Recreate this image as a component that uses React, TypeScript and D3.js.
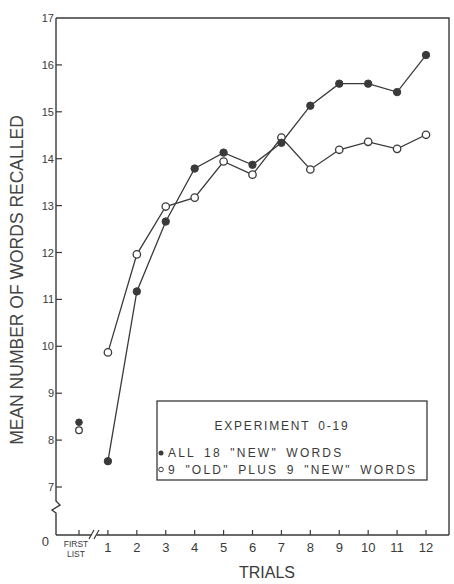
import React, { useEffect, useRef } from "react";
import * as d3 from "d3";

// trials 1..12 (first list shown apart at position 0)
const trials = [1, 2, 3, 4, 5, 6, 7, 8, 9, 10, 11, 12];
const allNew = [7.55, 11.17, 12.66, 13.79, 14.13, 13.87, 14.34, 15.13, 15.6, 15.6, 15.42, 16.21];
const oldPlusNew = [9.87, 11.96, 12.98, 13.17, 13.94, 13.66, 14.45, 13.77, 14.19, 14.36, 14.21, 14.51];
const firstListAllNew = 8.38;
const firstListOldPlusNew = 8.21;
const yTicks = [7, 8, 9, 10, 11, 12, 13, 14, 15, 16];
const xTickLabels = ["1", "2", "3", "4", "5", "6", "7", "8", "9", "10", "11", "12"];
const legendTitle = "EXPERIMENT 0-19";
const legendItems = ['ALL 18 "NEW" WORDS', '9 "OLD" PLUS 9 "NEW" WORDS'];

const ink = "#3a3a3a";
const font = "'Liberation Sans', Arial, sans-serif";

const App = () => {
  const svgRef = useRef<SVGSVGElement>(null);

  useEffect(() => {
    const svg = d3.select(svgRef.current);
    svg.selectAll("*").remove();

    const left = 56, right = 449, top = 18, bottom = 535;

    const x = d3.scaleLinear().domain([0, 12]).range([79, 426]);
    const y = d3.scaleLinear().domain([7, 17]).range([487, top]);

    // frame: top and right
    svg.append("path")
      .attr("d", `M${left},${top}H${right}V${bottom}`)
      .attr("fill", "none").attr("stroke", ink).attr("stroke-width", 1.4);

    // left axis with break squiggle
    svg.append("path")
      .attr("d", `M${left},${top}V501L${left + 4},505L${left - 4},510L${left},513V${bottom}`)
      .attr("fill", "none").attr("stroke", ink).attr("stroke-width", 1.4);

    // bottom axis with break //
    const bx = x(0.5);
    svg.append("path")
      .attr("d", `M${left},${bottom}H${bx - 2}M${bx + 3},${bottom}H${right}`)
      .attr("fill", "none").attr("stroke", ink).attr("stroke-width", 1.4);
    [-2, 3].forEach(o => {
      svg.append("line")
        .attr("x1", bx + o - 2.5).attr("y1", bottom + 4)
        .attr("x2", bx + o + 2.5).attr("y2", bottom - 5)
        .attr("stroke", ink).attr("stroke-width", 1.2);
    });

    // y ticks (inward)
    yTicks.forEach(t => {
      svg.append("line")
        .attr("x1", left).attr("x2", left + 6)
        .attr("y1", y(t)).attr("y2", y(t))
        .attr("stroke", ink).attr("stroke-width", 1.2);
    });
    [...yTicks, 17].forEach(t => {
      svg.append("text")
        .attr("x", left - 2).attr("y", y(t) + 4)
        .attr("text-anchor", "end")
        .attr("font-family", font).attr("font-size", 11)
        .attr("fill", ink)
        .text(t);
    });
    svg.append("text")
      .attr("x", left - 7).attr("y", bottom + 11)
      .attr("text-anchor", "end")
      .attr("font-family", font).attr("font-size", 13)
      .attr("fill", ink).text("0");

    // x ticks (inward)
    [0, ...trials].forEach(t => {
      svg.append("line")
        .attr("x1", x(t)).attr("x2", x(t))
        .attr("y1", bottom).attr("y2", bottom - 5)
        .attr("stroke", ink).attr("stroke-width", 1.2);
    });
    trials.forEach((t, i) => {
      svg.append("text")
        .attr("x", x(t)).attr("y", bottom + 17)
        .attr("text-anchor", "middle")
        .attr("font-family", font).attr("font-size", 13)
        .attr("fill", ink).text(xTickLabels[i]);
    });
    svg.append("text")
      .attr("x", x(0) - 3).attr("y", bottom + 12)
      .attr("text-anchor", "middle")
      .attr("font-family", font).attr("font-size", 8.5)
      .attr("fill", ink).text("FIRST");
    svg.append("text")
      .attr("x", x(0) - 3).attr("y", bottom + 22)
      .attr("text-anchor", "middle")
      .attr("font-family", font).attr("font-size", 8.5)
      .attr("fill", ink).text("LIST");

    // axis titles
    svg.append("text")
      .attr("x", 267).attr("y", 578)
      .attr("text-anchor", "middle")
      .attr("font-family", font).attr("font-size", 16)
      .attr("fill", ink).text("TRIALS");
    svg.append("text")
      .attr("transform", "translate(23,280) rotate(-90)")
      .attr("text-anchor", "middle")
      .attr("font-family", font).attr("font-size", 17.5)
      .attr("fill", "#444").text("MEAN NUMBER OF WORDS RECALLED");

    // lines
    const line = d3.line<number>()
      .x((d, i) => x(trials[i]))
      .y(d => y(d));

    svg.append("path").datum(allNew)
      .attr("d", line).attr("fill", "none")
      .attr("stroke", ink).attr("stroke-width", 1.3);
    svg.append("path").datum(oldPlusNew)
      .attr("d", line).attr("fill", "none")
      .attr("stroke", ink).attr("stroke-width", 1.3);

    // markers
    oldPlusNew.forEach((v, i) => {
      svg.append("circle")
        .attr("cx", x(trials[i])).attr("cy", y(v)).attr("r", 3.7)
        .attr("fill", "white").attr("stroke", ink).attr("stroke-width", 1.3);
    });
    allNew.forEach((v, i) => {
      svg.append("circle")
        .attr("cx", x(trials[i])).attr("cy", y(v)).attr("r", 3.7)
        .attr("fill", ink).attr("stroke", ink).attr("stroke-width", 1);
    });
    svg.append("circle")
      .attr("cx", x(0)).attr("cy", y(firstListOldPlusNew)).attr("r", 3.3)
      .attr("fill", "white").attr("stroke", ink).attr("stroke-width", 1.3);
    svg.append("circle")
      .attr("cx", x(0)).attr("cy", y(firstListAllNew)).attr("r", 3.3)
      .attr("fill", ink).attr("stroke", ink).attr("stroke-width", 1);

    // legend
    const lg = svg.append("g");
    lg.append("rect")
      .attr("x", 157).attr("y", 401).attr("width", 270).attr("height", 79)
      .attr("fill", "white").attr("stroke", ink).attr("stroke-width", 1.3);
    lg.append("text")
      .attr("x", 282).attr("y", 430)
      .attr("text-anchor", "middle")
      .attr("font-family", font).attr("font-size", 12)
      .attr("letter-spacing", 1.8).attr("word-spacing", 3)
      .attr("fill", ink).text(legendTitle);
    lg.append("circle").attr("cx", 161).attr("cy", 453).attr("r", 2.5)
      .attr("fill", ink);
    lg.append("circle").attr("cx", 161).attr("cy", 469.5).attr("r", 2.3)
      .attr("fill", "white").attr("stroke", ink).attr("stroke-width", 1);
    legendItems.forEach((t, i) => {
      lg.append("text")
        .attr("x", 168).attr("y", 457 + i * 17)
        .attr("font-family", font).attr("font-size", 12)
        .attr("letter-spacing", 2.2).attr("word-spacing", 3)
        .attr("fill", ink).text(t);
    });
  }, []);

  return (
    <svg ref={svgRef} width={454} height={584}
      style={{ position: "absolute", left: 0, top: 0, background: "white" }} />
  );
};

export default App;
